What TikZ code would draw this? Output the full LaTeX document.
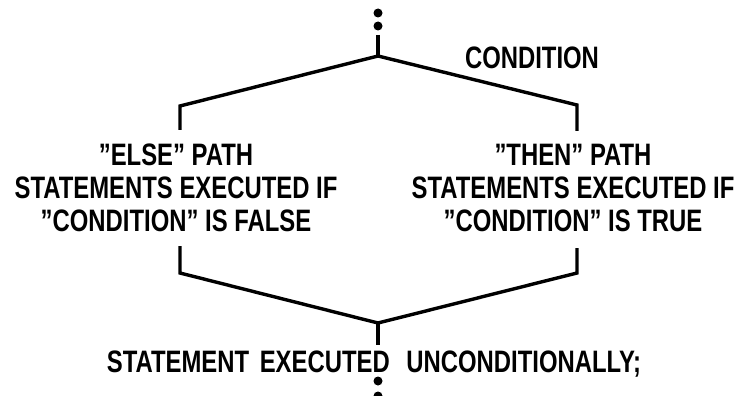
\documentclass[tikz,border=0pt]{standalone}
\usepackage{fontspec}
\setmainfont{Liberation Sans}[FakeStretch=0.77]
\newcommand{\qq}{\char34\relax}
\begin{document}
\begin{tikzpicture}[x=1pt,y=-1pt,
  flow/.style={line width=3.4pt, line join=miter},
  lbl/.style={font=\fontsize{31}{33}\selectfont\bfseries, inner sep=0pt, align=center},
  dotmark/.style={fill=black}]
\useasboundingbox (0,0) rectangle (748,396);
% geometry
\coordinate (tstem) at (378,35);
\coordinate (topv) at (378,56);
\coordinate (tl) at (180,106);
\coordinate (tlb) at (180,130);
\coordinate (tr) at (577,105);
\coordinate (trb) at (577,131);
\coordinate (blt) at (180,246);
\coordinate (bl) at (180,273);
\coordinate (brt) at (577,248);
\coordinate (br) at (577,273);
\coordinate (botv) at (378,323);
\coordinate (bstem) at (378,345);
% dots
\fill[dotmark] (378,13) circle (4.5pt);
\fill[dotmark] (378,26) circle (4.5pt);
\fill[dotmark] (378,381) circle (4.5pt);
\fill[dotmark] (378,396) circle (4.5pt);
% connectors
\draw[flow] (tstem) -- (topv);
\draw[flow] (tlb) -- (tl) -- (topv) -- (tr) -- (trb);
\draw[flow] (blt) -- (bl) -- (botv) -- (br) -- (brt);
\draw[flow] (botv) -- (bstem);
% texts
\node[lbl] (cond) at (532,58) {CONDITION};
\node[lbl] (else) at (176,188) {\qq ELSE\qq\ PATH\\STATEMENTS EXECUTED IF\\\qq CONDITION\qq\ IS FALSE};
\node[lbl] (then) at (573,188) {\qq THEN\qq\ PATH\\STATEMENTS EXECUTED IF\\\qq CONDITION\qq\ IS TRUE};
\node[lbl] (uncond) at (374,364) {STATEMENT\hspace{4pt} EXECUTED\hspace{10pt} UNCONDITIONALLY;};
\end{tikzpicture}
\end{document}
